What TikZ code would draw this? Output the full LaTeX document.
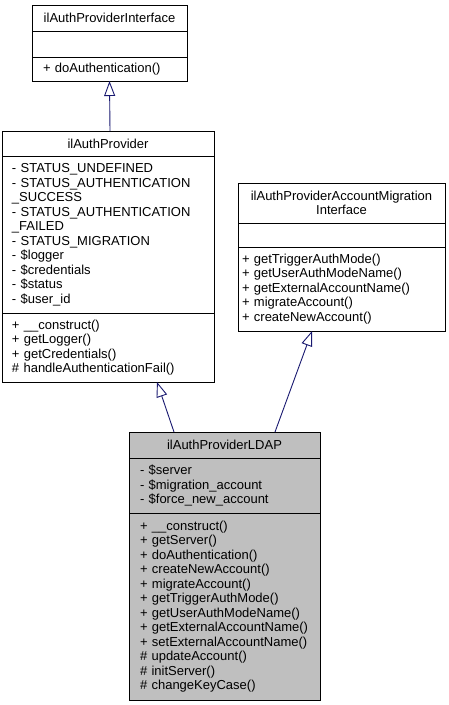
\documentclass[tikz,border=0pt]{standalone}
\usepackage{fontspec}
\setmainfont{Liberation Sans}
\usetikzlibrary{arrows.meta, positioning}
\definecolor{edgeblue}{HTML}{191970}
\definecolor{ldapgrey}{HTML}{BFBFBF}
\tikzstyle{classtitle} = [
  rectangle,
  draw=black,
  line width=0.9pt,
  text centered,
  align=center,
  inner sep=0,
  outer sep=0,
  font=\fontsize{13}{14.5}\selectfont
]
\tikzstyle{members} = [
  rectangle,
  draw=black,
  line width=0.9pt,
  align=left,
  inner ysep=0,
  outer sep=0,
  font=\fontsize{13}{14.5}\selectfont
]
\tikzstyle{inherit} = [
  draw=edgeblue,
  line width=0.9pt,
  -{Triangle[open, length=15pt, width=11pt]}
]

\begin{document}
\begin{tikzpicture}[x=1pt, y=1pt]
      \useasboundingbox (0,0) rectangle (448,-705);

      % ilAuthProviderInterface
      \node [classtitle, minimum width=155pt, minimum height=26pt] (ifTitle) at (109.5,-18) {ilAuthProviderInterface};
      \node [members, below=0pt of ifTitle, text width=133pt, inner xsep=11pt, minimum height=26pt] (ifAttr) {};
      \node [members, below=0pt of ifAttr, text width=133pt, inner xsep=11pt, minimum height=24pt] (ifOps) {+ doAuthentication()};

      % ilAuthProvider
      \node [classtitle, minimum width=212pt, minimum height=25pt] (provTitle) at (108,-143.5) {ilAuthProvider};
      \node [members, below=0pt of provTitle, text width=192pt, inner xsep=10pt, minimum height=157pt] (provAttr) {- STATUS\_UNDEFINED\\- STATUS\_AUTHENTICATION\\\_SUCCESS\\- STATUS\_AUTHENTICATION\\\_FAILED\\- STATUS\_MIGRATION\\- \$logger\\- \$credentials\\- \$status\\- \$user\_id};
      \node [members, below=0pt of provAttr, text width=192pt, inner xsep=10pt, minimum height=69pt] (provOps) {+ \_\_construct()\\+ getLogger()\\+ getCredentials()\\\# handleAuthenticationFail()};

      % ilAuthProviderAccountMigrationInterface
      \node [classtitle, minimum width=207pt, minimum height=40pt] (migTitle) at (341.5,-203) {ilAuthProviderAccountMigration\\Interface};
      \node [members, below=0pt of migTitle, text width=199pt, inner xsep=4pt, minimum height=24pt] (migAttr) {};
      \node [members, below=0pt of migAttr, text width=199pt, inner xsep=4pt, minimum height=84pt] (migOps) {+ getTriggerAuthMode()\\+ getUserAuthModeName()\\+ getExternalAccountName()\\+ migrateAccount()\\+ createNewAccount()};

      % ilAuthProviderLDAP
      \node [classtitle, fill=ldapgrey, minimum width=191pt, minimum height=26pt] (ldapTitle) at (224.5,-445) {ilAuthProviderLDAP};
      \node [members, fill=ldapgrey, below=0pt of ldapTitle, text width=169pt, inner xsep=11pt, minimum height=55pt] (ldapAttr) {- \$server\\- \$migration\_account\\- \$force\_new\_account};
      \node [members, fill=ldapgrey, below=0pt of ldapAttr, text width=169pt, inner xsep=11pt, minimum height=187pt] (ldapOps) {+ \_\_construct()\\+ getServer()\\+ doAuthentication()\\+ createNewAccount()\\+ migrateAccount()\\+ getTriggerAuthMode()\\+ getUserAuthModeName()\\+ getExternalAccountName()\\+ setExternalAccountName()\\\# updateAccount()\\\# initServer()\\\# changeKeyCase()};

      \draw [inherit] ([xshift=2pt]provTitle.north) -- (ifOps.south);
      \draw [inherit] ([xshift=-50.5pt]ldapTitle.north) -- ([xshift=49pt]provOps.south);
      \draw [inherit] ([xshift=50.5pt]ldapTitle.north) -- ([xshift=-29.5pt]migOps.south);

    \end{tikzpicture}
\end{document}
